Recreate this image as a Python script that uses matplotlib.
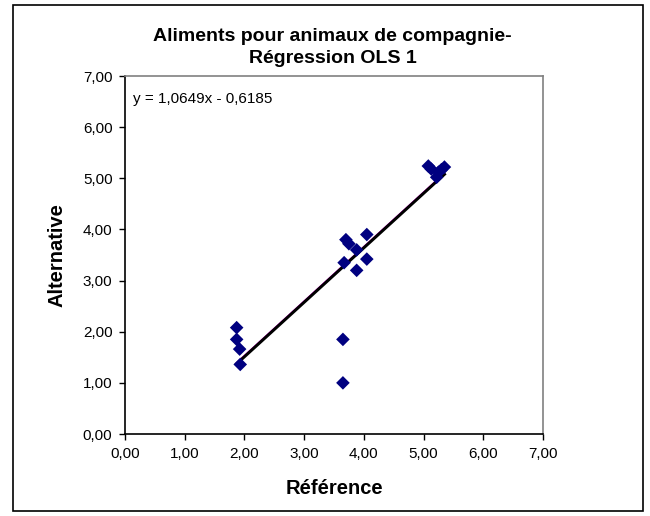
import matplotlib
matplotlib.use("Agg")
import matplotlib.pyplot as plt
from matplotlib.patches import Rectangle
from matplotlib.ticker import FuncFormatter
import numpy as np

plt.rcParams['font.family'] = ['Liberation Sans', 'DejaVu Sans']

# data
reference = [1.87, 1.87, 1.92, 1.93, 3.65, 3.65,
             3.70, 3.75, 4.05, 3.88, 3.67, 4.05, 3.88,
             5.08, 5.13, 5.22, 5.25, 5.30, 5.35]
alternative = [2.08, 1.85, 1.66, 1.36, 1.85, 1.00,
               3.80, 3.72, 3.90, 3.60, 3.35, 3.42, 3.20,
               5.24, 5.18, 5.02, 5.12, 5.17, 5.22]
slope = 1.0649
intercept = -0.6185

fig = plt.figure(figsize=(6.5, 5.16), dpi=100)
ax = fig.add_axes([0.1923, 0.1589, 0.643, 0.6938])

# trend line (magenta under black, as in the Excel export)
xs = np.array([min(reference), max(reference)])
ax.plot(xs, slope * xs + intercept + 0.02, color='#ff00ff', lw=1.2, zorder=2)
ax.plot(xs, slope * xs + intercept, color='black', lw=2.2, zorder=3)
ax.scatter(reference, alternative, marker='D', s=48, color='#000080',
           edgecolors='none', zorder=4)

ax.set_xlim(0, 7)
ax.set_ylim(0, 7)
ax.set_xticks(range(8))
ax.set_yticks(range(8))
fmt = FuncFormatter(lambda v, p: f"{v:.2f}".replace('.', ','))
ax.xaxis.set_major_formatter(fmt)
ax.yaxis.set_major_formatter(fmt)
ax.tick_params(direction='out', length=4, width=1, labelsize=11, pad=5)

for s in ['top', 'right']:
    ax.spines[s].set_color('#808080')
    ax.spines[s].set_linewidth(1.2)
for s in ['left', 'bottom']:
    ax.spines[s].set_color('black')
    ax.spines[s].set_linewidth(1.2)

ax.set_xlabel('Référence', fontsize=14.5, fontweight='bold', labelpad=13)
ax.set_ylabel('Alternative', fontsize=14.5, fontweight='bold', labelpad=12)
fig.text(0.512, 0.908, 'Aliments pour animaux de compagnie-\nRégression OLS 1',
         ha='center', va='center', fontsize=14, fontweight='bold', linespacing=1.35)

ax.text(0.02, 0.955, f"y = {slope:.4f}x - {abs(intercept):.4f}".replace('.', ','),
        transform=ax.transAxes, fontsize=11, va='top', ha='left')

fig.patches.append(Rectangle((13 / 650, 5 / 516), 630 / 650, 506 / 516,
                             transform=fig.transFigure, fill=False,
                             edgecolor='black', lw=1.2))

fig.savefig('out.png', dpi=100)
